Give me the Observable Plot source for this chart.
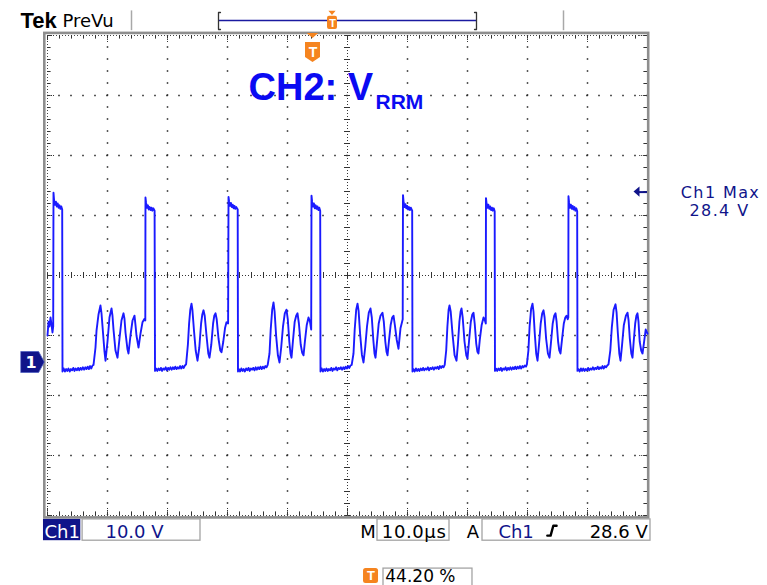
<!DOCTYPE html>
<html><head><meta charset="utf-8">
<script src="https://cdn.jsdelivr.net/npm/d3@7"></script>
<script src="https://cdn.jsdelivr.net/npm/@observablehq/plot@0.6"></script>
<style>
html,body{margin:0;padding:0;background:#fff;}
#chart{width:767px;height:585px;}
</style></head>
<body><div id="chart"></div>
<script>
// ---- Channel 1 trace: [time (µs), voltage (V)] (10 µs/div, 10 V/div)
const ch1Trace = [
 [0,4.5],[0.17,6.8],[0.33,6.0],[0.5,7.5],[0.67,6.3],[0.83,5.0],[0.95,6.0],
 [1.0,28.3],[1.1,27.0],[1.25,26.3],[1.4,26.8],[1.55,26.0],[1.7,26.5],[1.85,25.8],[2.0,26.2],[2.15,25.6],[2.3,26.0],[2.45,25.5],[2.5,-1.5],
 [2.7,-1.0],[2.9,-1.5],[3.1,-1.1],[3.3,-1.4],[3.5,-1.0],[3.7,-1.5],[3.9,-1.1],[4.1,-1.3],[4.3,-0.9],[4.5,-1.4],[4.7,-1.0],[4.9,-1.3],[5.1,-0.9],[5.3,-1.3],[5.5,-0.9],[5.7,-1.2],[5.9,-0.8],[6.1,-1.2],[6.3,-0.8],[6.5,-1.1],[6.7,-0.7],[6.9,-1.1],[7.1,-0.6],[7.3,-1.0],[7.5,-0.5],[7.67,-0.4],
 [8.0,2.5],[8.17,5.3],[8.5,8.0],[8.83,9.5],[9.0,8.2],[9.17,6.0],[9.5,1.8],[9.67,0.3],[10.0,3.5],[10.33,7.5],[10.67,9.0],[10.83,7.8],[11.0,5.5],[11.33,2.0],[11.67,0.8],[12.0,4.0],[12.33,7.0],[12.67,8.2],[12.83,7.3],[13.0,5.0],[13.33,2.2],[13.5,1.5],[13.83,4.5],[14.17,7.0],[14.5,7.8],[14.67,6.2],[14.83,4.5],[15.17,2.5],[15.5,4.8],[15.83,6.7],[16.17,7.3],[16.3,7.0],
 [16.33,27.5],[16.43,26.6],[16.58,25.8],[16.73,26.2],[16.88,25.5],[17.03,25.9],[17.18,25.4],[17.33,25.8],[17.48,25.3],[17.63,25.7],[17.85,25.3],[17.92,-1.4],
 [18.1,-1.0],[18.3,-1.4],[18.5,-1.0],[18.7,-1.3],[18.9,-0.9],[19.1,-1.4],[19.3,-1.0],[19.5,-1.2],[19.7,-0.8],[19.9,-1.3],[20.1,-0.9],[20.3,-1.2],[20.5,-0.8],[20.7,-1.2],[20.9,-0.8],[21.1,-1.1],[21.3,-0.7],[21.5,-1.1],[21.7,-0.8],[21.9,-1.0],[22.1,-0.6],[22.3,-1.0],[22.5,-0.6],[22.7,-0.9],[22.9,-0.5],[23.1,-0.3],
 [23.4,3.0],[23.6,6.5],[23.8,8.8],[24.0,9.8],[24.15,8.8],[24.4,5.5],[24.7,2.0],[25.0,0.3],[25.3,2.5],[25.6,6.5],[25.8,8.0],[26.0,8.7],[26.2,7.8],[26.5,4.5],[26.8,1.5],[27.0,0.8],[27.3,3.0],[27.6,6.5],[27.8,7.8],[28.0,8.2],[28.2,7.2],[28.5,4.0],[28.8,2.0],[29.0,1.7],[29.3,3.5],[29.6,5.8],[29.83,6.7],[30.1,6.5],
 [30.17,27.6],[30.27,26.8],[30.42,26.1],[30.57,26.6],[30.72,25.9],[30.87,26.3],[31.02,25.7],[31.17,26.1],[31.32,25.6],[31.47,25.9],[31.7,25.5],[31.75,-1.5],
 [31.9,-1.1],[32.1,-1.5],[32.3,-1.0],[32.5,-1.4],[32.7,-1.1],[32.9,-1.5],[33.1,-1.0],[33.3,-1.3],[33.5,-0.9],[33.7,-1.4],[33.9,-1.0],[34.1,-1.2],[34.3,-0.9],[34.5,-1.3],[34.7,-0.8],[34.9,-1.2],[35.1,-0.8],[35.3,-1.1],[35.5,-0.7],[35.7,-1.1],[35.9,-0.7],[36.1,-1.0],[36.3,-0.6],[36.5,-0.8],[36.7,-0.4],
 [37.0,1.5],[37.2,5.5],[37.45,8.8],[37.67,10.0],[37.85,8.5],[38.1,4.5],[38.4,1.2],[38.67,0.0],[38.95,2.5],[39.25,6.0],[39.55,8.2],[39.83,8.8],[40.05,7.2],[40.3,3.5],[40.5,1.5],[40.67,0.8],[40.9,3.5],[41.2,6.8],[41.45,7.8],[41.67,8.2],[41.9,6.5],[42.2,3.0],[42.45,1.6],[42.67,1.2],[42.9,3.5],[43.2,6.2],[43.5,7.5],[43.75,6.8],[43.95,5.5],
 [44.0,27.8],[44.1,26.8],[44.25,26.0],[44.4,26.5],[44.55,25.7],[44.7,26.2],[44.85,25.6],[45.0,26.0],[45.15,25.4],[45.3,25.8],[45.45,25.3],[45.5,-1.5],
 [45.7,-1.0],[45.9,-1.5],[46.1,-1.1],[46.3,-1.4],[46.5,-1.0],[46.7,-1.4],[46.9,-1.1],[47.1,-1.3],[47.3,-0.9],[47.5,-1.4],[47.7,-1.0],[47.9,-1.2],[48.1,-0.8],[48.3,-1.3],[48.5,-0.9],[48.7,-1.1],[48.9,-0.8],[49.1,-1.2],[49.3,-0.8],[49.5,-1.1],[49.7,-0.7],[49.9,-1.0],[50.1,-0.6],[50.3,-0.9],[50.5,-0.5],[50.7,-0.4],
 [51.0,1.5],[51.2,5.5],[51.45,8.8],[51.67,9.8],[51.85,8.6],[52.1,4.8],[52.4,1.3],[52.67,0.0],[52.95,2.5],[53.25,6.0],[53.55,8.3],[53.83,9.0],[54.05,7.5],[54.3,3.8],[54.5,1.5],[54.67,0.8],[54.9,3.2],[55.2,6.5],[55.5,7.8],[55.83,8.3],[56.05,6.8],[56.3,3.5],[56.5,1.8],[56.67,1.2],[56.9,3.5],[57.2,6.3],[57.45,7.5],[57.67,7.8],[57.9,6.2],[58.2,3.8],[58.5,2.3],[58.83,5.7],[59.1,6.8],[59.2,7.2],
 [59.25,27.9],[59.35,26.7],[59.5,25.9],[59.65,26.4],[59.8,25.7],[59.95,26.1],[60.1,25.5],[60.25,25.9],[60.4,25.4],[60.55,25.8],[60.78,25.3],[60.83,-1.5],
 [61.0,-1.1],[61.2,-1.5],[61.4,-1.0],[61.6,-1.4],[61.8,-1.1],[62.0,-1.4],[62.2,-1.0],[62.4,-1.3],[62.6,-0.9],[62.8,-1.3],[63.0,-1.0],[63.2,-1.2],[63.4,-0.8],[63.6,-1.3],[63.8,-0.9],[64.0,-1.1],[64.2,-0.8],[64.4,-1.2],[64.6,-0.8],[64.8,-1.0],[65.0,-0.7],[65.2,-1.1],[65.4,-0.6],[65.6,-0.9],[65.8,-0.6],[66.0,-0.8],[66.2,-0.4],
 [66.45,2.0],[66.65,6.0],[66.85,8.8],[67.0,9.5],[67.2,8.5],[67.5,4.8],[67.85,1.2],[68.17,0.3],[68.4,3.0],[68.65,6.8],[68.85,8.5],[69.0,9.0],[69.2,7.5],[69.5,3.5],[69.8,1.2],[70.0,0.7],[70.25,3.5],[70.55,6.8],[70.8,8.0],[71.0,8.3],[71.2,6.5],[71.45,3.2],[71.65,1.8],[71.83,1.5],[72.05,3.8],[72.35,6.2],[72.67,7.5],[72.9,7.0],[73.05,6.5],
 [73.08,27.4],[73.18,26.5],[73.33,25.8],[73.48,26.3],[73.63,25.6],[73.78,26.0],[73.93,25.4],[74.08,25.8],[74.23,25.3],[74.38,25.7],[74.53,25.2],[74.58,-1.4],
 [74.75,-1.0],[74.95,-1.4],[75.15,-1.0],[75.35,-1.3],[75.55,-0.9],[75.75,-1.4],[75.95,-1.0],[76.15,-1.2],[76.35,-0.8],[76.55,-1.3],[76.75,-0.9],[76.95,-1.2],[77.15,-0.8],[77.35,-1.2],[77.55,-0.8],[77.75,-1.1],[77.95,-0.7],[78.15,-1.1],[78.35,-0.7],[78.55,-1.0],[78.75,-0.6],[78.95,-1.0],[79.15,-0.6],[79.35,-0.8],[79.55,-0.5],[79.75,-0.7],[79.9,-0.3],
 [80.15,2.0],[80.35,6.0],[80.6,8.9],[80.83,9.8],[81.0,8.5],[81.2,5.0],[81.45,1.5],[81.67,0.3],[81.9,2.8],[82.2,6.5],[82.45,8.2],[82.67,8.7],[82.85,7.5],[83.1,4.0],[83.4,1.5],[83.67,0.8],[83.9,3.2],[84.2,6.5],[84.45,7.8],[84.67,8.2],[84.85,6.8],[85.1,3.5],[85.3,2.0],[85.5,1.5],[85.75,3.8],[86.05,6.5],[86.3,7.5],[86.5,7.8],[86.7,7.2],[86.8,7.5],
 [86.83,27.7],[86.93,26.6],[87.08,25.8],[87.23,26.3],[87.38,25.6],[87.53,26.1],[87.68,25.5],[87.83,25.9],[87.98,25.3],[88.13,25.7],[88.28,25.2],[88.33,-1.4],
 [88.5,-1.1],[88.7,-1.5],[88.9,-1.0],[89.1,-1.4],[89.3,-1.0],[89.5,-1.4],[89.7,-1.1],[89.9,-1.3],[90.1,-0.9],[90.3,-1.3],[90.5,-1.0],[90.7,-1.2],[90.9,-0.8],[91.1,-1.2],[91.3,-0.9],[91.5,-1.1],[91.7,-0.7],[91.9,-1.1],[92.1,-0.8],[92.3,-1.0],[92.5,-0.6],[92.7,-1.0],[92.9,-0.6],[93.1,-0.8],[93.3,-0.5],[93.5,-0.3],
 [93.8,2.0],[94.05,5.8],[94.35,8.8],[94.67,9.7],[94.85,8.3],[95.05,5.0],[95.3,1.5],[95.5,0.3],[95.75,2.8],[96.05,6.2],[96.4,7.8],[96.67,8.3],[96.85,7.0],[97.05,4.0],[97.3,1.5],[97.5,0.8],[97.7,3.5],[97.95,6.5],[98.15,7.8],[98.33,8.2],[98.5,6.8],[98.7,3.5],[98.95,2.0],[99.17,1.5],[99.4,3.2],[99.7,5.5],[100,4.8]
];

// ---- Graticule (µs / V)
const timeDomain = [0, 100];
const voltDomain = [-25.5, 54.5];
const timeGrid = [10, 20, 30, 40, 60, 70, 80, 90];
const voltGrid = [44.5, 34.5, 24.5, 4.5, -5.5, -15.5];
const centerTime = [50];
const centerVolt = [14.5];
const majorTimes = [0, 10, 20, 30, 40, 50, 60, 70, 80, 90, 100];
const majorVolts = [-25.5, -15.5, -5.5, 4.5, 14.5, 24.5, 34.5, 44.5, 54.5];

// ---- Readouts
const ch1MaxLabel = "Ch1 Max";
const ch1MaxValue = 28.4;
const ch1Scale = "10.0 V";
const timebase = "10.0µs";
const triggerLevel = "28.6 V";
const triggerPosition = "44.20 %";
const titleMain = "CH2: V";
const titleSub = "RRM";

const NAVY = "#10148a", BLUE = "#0a0af2", TRACE = "#1a1aff", ORANGE = "#f5841f";
const UI = "DejaVu Sans, Verdana, sans-serif";
const AR = "Liberation Sans, Arial, sans-serif";

const wave = ch1Trace.map(([t, v]) => ({t, v}));
const minorTimes = d3.range(0, 100.001, 2);
const minorVolts = d3.range(-25.5, 54.501, 2);
const c = v => () => v;

function txt(data, o) {
  return Plot.text(data, {x: "t", y: "v", text: "s", lineAnchor: "bottom", ...o});
}

const plot = Plot.plot({
  width: 767, height: 585,
  marginLeft: 47, marginRight: 120, marginTop: 35, marginBottom: 70,
  x: {domain: timeDomain, axis: null},
  y: {domain: voltDomain, axis: null},
  style: {background: "#fff", overflow: "visible"},
  marks: [
    // graticule dots
    Plot.ruleX(timeGrid, {x: d => d, stroke: "#222", strokeWidth: 1.5, strokeDasharray: "1.5,10.5", strokeDashoffset: 0.75}),
    Plot.ruleY(voltGrid, {y: d => d, stroke: "#222", strokeWidth: 1.5, strokeDasharray: "1.5,10.5", strokeDashoffset: 0.75}),
    // center axes
    Plot.ruleX(centerTime, {x: d => d, stroke: "#333", strokeWidth: 1, strokeDasharray: "1,2"}),
    Plot.ruleY(centerVolt, {y: d => d, stroke: "#333", strokeWidth: 1, strokeDasharray: "1,2"}),
    Plot.ruleX(minorTimes, {x: d => d, y1: c(14.0), y2: c(15.0), stroke: "#333", strokeWidth: 1}),
    Plot.ruleY(minorVolts, {y: d => d, x1: c(49.5), x2: c(50.5), stroke: "#333", strokeWidth: 1}),
    // border dotted lines and ticks
    Plot.ruleY([54.5, -25.5], {y: d => d, stroke: "#444", strokeWidth: 1, strokeDasharray: "1,2"}),
    Plot.ruleX([0, 100], {x: d => d, stroke: "#444", strokeWidth: 1, strokeDasharray: "1,2"}),
    Plot.ruleX(minorTimes, {x: d => d, y1: c(54.5), y2: c(53.9), stroke: "#333"}),
    Plot.ruleX(minorTimes, {x: d => d, y1: c(-25.5), y2: c(-24.9), stroke: "#333"}),
    Plot.ruleY(minorVolts, {y: d => d, x1: c(0), x2: c(0.6), stroke: "#333"}),
    Plot.ruleY(minorVolts, {y: d => d, x1: c(99.4), x2: c(100), stroke: "#333"}),
    Plot.ruleX(majorTimes, {x: d => d, y1: c(54.5), y2: c(53.2), stroke: "#333", strokeDasharray: "1,1"}),
    Plot.ruleX(majorTimes, {x: d => d, y1: c(-25.5), y2: c(-24.2), stroke: "#333", strokeDasharray: "1,1"}),
    Plot.ruleY(majorVolts, {y: d => d, x1: c(0), x2: c(1.3), stroke: "#333", strokeDasharray: "1,1"}),
    Plot.ruleY(majorVolts, {y: d => d, x1: c(98.7), x2: c(100), stroke: "#333", strokeDasharray: "1,1"}),
    // outer bezel
    Plot.rect([{x1: -0.45, x2: 100.2, y1: 54.85, y2: -25.9}], {x1: "x1", x2: "x2", y1: "y1", y2: "y2", fill: "none", stroke: "#8e8e8e", strokeWidth: 2.6}),

    // waveform
    Plot.line(wave, {x: "t", y: "v", stroke: TRACE, strokeWidth: 1.9, strokeLinejoin: "round"}),

    // title
    txt([{t: 33.5, v: 43.67, s: titleMain}], {textAnchor: "start", fill: BLUE, fontSize: 38, fontWeight: "bold", fontFamily: AR}),
    txt([{t: 54.67, v: 42.17, s: titleSub}], {textAnchor: "start", fill: BLUE, fontSize: 21, fontWeight: "bold", fontFamily: AR}),

    // header bar
    txt([{t: -4.5, v: 55.83, s: "Tek"}], {textAnchor: "start", fill: "#000", fontSize: 22, fontWeight: "bold", fontFamily: AR}),
    txt([{t: 2.5, v: 56.0, s: "PreVu"}], {textAnchor: "start", fill: "#000", fontSize: 18, fontFamily: UI}),
    Plot.ruleX([14.0, 86.0], {x: d => d, y1: c(58.6), y2: c(55.3), stroke: "#a8a8a8", strokeWidth: 1.5}),
    Plot.ruleY([57.0], {y: d => d, x1: c(28.5), x2: c(71.5), stroke: "#1a1aa0", strokeWidth: 1.5}),
    Plot.line([{t: 28.83, v: 58.33}, {t: 28.5, v: 58.33}, {t: 28.5, v: 55.5}, {t: 28.83, v: 55.5}], {x: "t", y: "v", stroke: "#333", strokeWidth: 1.3}),
    Plot.line([{t: 71.17, v: 58.33}, {t: 71.5, v: 58.33}, {t: 71.5, v: 55.5}, {t: 71.17, v: 55.5}], {x: "t", y: "v", stroke: "#333", strokeWidth: 1.3}),
    // record-bar trigger marker
    Plot.areaX([{v: 58.55, l: 46.9, r: 48.1}, {v: 57.85, l: 47.5, r: 47.5}], {y: "v", x1: "l", x2: "r", fill: ORANGE}),
    Plot.rect([{x1: 46.67, x2: 48.33, y1: 57.7, y2: 55.5}], {x1: "x1", x2: "x2", y1: "y1", y2: "y2", fill: ORANGE, rx: 2}),
    txt([{t: 47.5, v: 55.9, s: "T"}], {fill: "#fff", fontSize: 11, fontWeight: "bold", fontFamily: AR}),
    // trigger position marker on graticule
    Plot.areaX([{v: 54.85, l: 43.3, r: 45.2}, {v: 54.0, l: 44.25, r: 44.25}], {y: "v", x1: "l", x2: "r", fill: ORANGE}),
    Plot.areaX([{v: 53.33, l: 43.0, r: 45.5}, {v: 50.83, l: 43.0, r: 45.5}, {v: 50.0, l: 44.25, r: 44.25}], {y: "v", x1: "l", x2: "r", fill: ORANGE}),
    txt([{t: 44.25, v: 50.95, s: "T"}], {fill: "#fff", fontSize: 14, fontWeight: "bold", fontFamily: AR}),

    // channel 1 ground marker (0 V)
    Plot.areaY([{t: -4.33, lo: -1.75, hi: 1.75}, {t: -1.4, lo: -1.75, hi: 1.75}, {t: -0.45, lo: 0, hi: 0}], {x: "t", y1: "lo", y2: "hi", fill: NAVY, stroke: "#5060c0", strokeWidth: 0.8}),
    Plot.text([{t: -2.75, v: 0, s: "1"}], {x: "t", y: "v", text: "s", fill: "#fff", fontSize: 16, fontWeight: "bold", fontFamily: UI}),

    // Ch1 Max readout with arrow at its level
    Plot.ruleY([ch1MaxValue], {y: d => d, x1: c(98.3), x2: c(100.0), stroke: NAVY, strokeWidth: 2}),
    Plot.areaY([{t: 97.75, lo: ch1MaxValue, hi: ch1MaxValue}, {t: 98.75, lo: ch1MaxValue - 0.85, hi: ch1MaxValue + 0.85}], {x: "t", y1: "lo", y2: "hi", fill: NAVY}),
    txt([{t: 112.17, v: 27.5, s: ch1MaxLabel}], {fill: NAVY, fontSize: 16, fontFamily: UI}),
    txt([{t: 112.0, v: 24.5, s: `${ch1MaxValue} V`}], {fill: NAVY, fontSize: 16, fontFamily: UI}),

    // bottom status line
    Plot.rect([{x1: -0.67, x2: 5.55, y1: -26.15, y2: -29.7}], {x1: "x1", x2: "x2", y1: "y1", y2: "y2", fill: NAVY}),
    Plot.rect([{x1: 5.85, x2: 25.5, y1: -26.15, y2: -29.7}, {x1: 55.0, x2: 67.0, y1: -26.15, y2: -29.7}, {x1: 72.5, x2: 100.5, y1: -26.15, y2: -29.7}, {x1: 56.0, x2: 70.83, y1: -34.35, y2: -37.6}],
      {x1: "x1", x2: "x2", y1: "y1", y2: "y2", fill: "none", stroke: "#a4a4a4", strokeWidth: 1.3}),
    txt([{t: 2.45, v: -29.17, s: "Ch1"}], {fill: "#fff", fontSize: 18, fontFamily: UI}),
    txt([{t: 14.5, v: -29.17, s: ch1Scale}], {fill: NAVY, fontSize: 18, fontFamily: UI}),
    txt([{t: 53.42, v: -29.17, s: "M"}], {fill: "#000", fontSize: 18, fontFamily: UI}),
    txt([{t: 61.1, v: -29.17, s: timebase}], {fill: "#000", fontSize: 18, fontFamily: UI}),
    txt([{t: 70.92, v: -29.17, s: "A"}], {fill: "#000", fontSize: 18, fontFamily: UI}),
    txt([{t: 78.1, v: -29.17, s: "Ch1"}], {fill: NAVY, fontSize: 18, fontFamily: UI}),
    Plot.line([{t: 83.3, v: -28.85}, {t: 83.85, v: -28.85}, {t: 84.3, v: -27.2}, {t: 84.85, v: -27.2}], {x: "t", y: "v", stroke: "#000", strokeWidth: 2.4}),
    txt([{t: 95.2, v: -29.17, s: triggerLevel}], {fill: "#000", fontSize: 18, fontFamily: UI}),
    // trigger position readout
    Plot.rect([{x1: 52.67, x2: 55.17, y1: -34.35, y2: -36.85}], {x1: "x1", x2: "x2", y1: "y1", y2: "y2", fill: ORANGE, rx: 2.5}),
    Plot.text([{t: 53.92, v: -35.6, s: "T"}], {x: "t", y: "v", text: "s", fill: "#fff", fontSize: 13, fontWeight: "bold", fontFamily: AR}),
    txt([{t: 56.3, v: -36.55, s: triggerPosition}], {textAnchor: "start", fill: "#000", fontSize: 17, fontFamily: UI})
  ]
});
// Tek-style wide letter spacing on the right readout and time base
d3.select(plot).selectAll("text")
  .filter(function () { const s = this.textContent; return s === ch1MaxLabel || s === `${ch1MaxValue} V`; })
  .style("letter-spacing", "1.4px");
d3.select(plot).selectAll("text")
  .filter(function () { return this.textContent === timebase; })
  .style("letter-spacing", "0.6px");
document.getElementById("chart").appendChild(plot);
</script>
</body></html>
